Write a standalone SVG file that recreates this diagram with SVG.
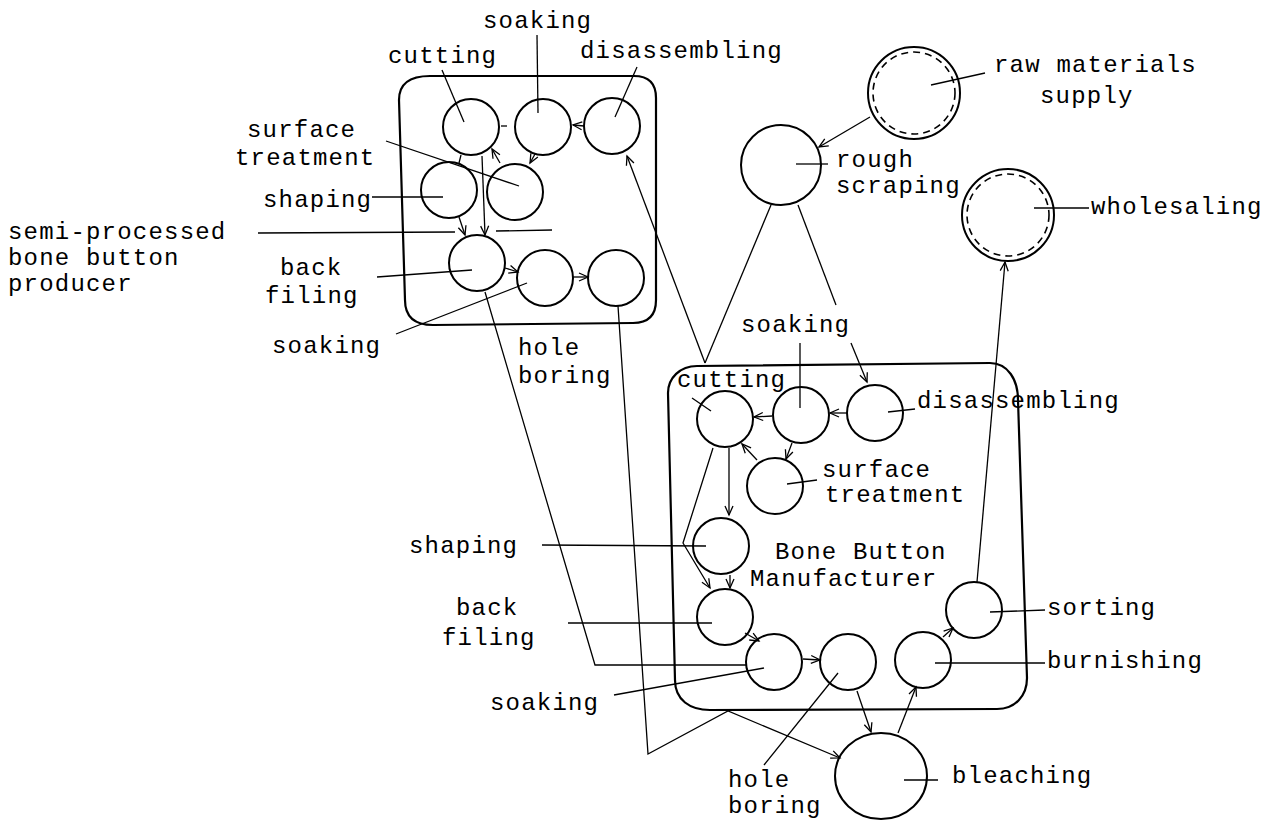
<svg xmlns="http://www.w3.org/2000/svg" width="1277" height="820" viewBox="0 0 1277 820">
<style>
text{font-family:"Liberation Mono","DejaVu Sans Mono",monospace;font-size:24px;letter-spacing:1.2px;fill:#000}
.c{fill:none;stroke:#000;stroke-width:2}
.d{fill:none;stroke:#000;stroke-width:1.6;stroke-dasharray:7 5}
.l{fill:none;stroke:#000;stroke-width:1.3}
.box{fill:none;stroke:#000;stroke-width:2.2}
</style>
<defs>
<marker id="arr" markerUnits="userSpaceOnUse" markerWidth="14" markerHeight="14" refX="10" refY="5" orient="auto"><path d="M1,1 L10,5 L1,9" fill="none" stroke="#000" stroke-width="1.3"/></marker>
</defs>
<rect width="1277" height="820" fill="#fff"/>

<g id="producer-box">
<path class="box" d="M430,76 L634,76 Q656,76 656,98 L656,300 Q656,323 633,323 L433,325 Q405,325 405,300 L399,100 Q399,76 430,76 Z"/>
<text x="8" y="239">semi-processed</text>
<text x="8" y="265">bone button</text>
<text x="8" y="291">producer</text>
<path class="l" d="M258,233 L455,232 M496,231 L552,230"/>
</g>

<g id="manufacturer-box">
<path class="box" d="M697,366 L990,363 C1008,363 1018,380 1018,400 L1027,678 C1027,696 1015,709 997,709 L710,710 C690,710 675,700 675,680 L668,393 C668,378 680,366 697,366 Z"/>
<text x="775" y="559">Bone Button</text>
<text x="750" y="586">Manufacturer</text>
</g>

<g id="p-cutting"><circle class="c" cx="471" cy="127" r="28"/><text x="388" y="63">cutting</text><path class="l" d="M442,70 L464,122"/></g>
<g id="p-soaking1"><circle class="c" cx="543" cy="127" r="28"/><text x="483" y="28">soaking</text><path class="l" d="M537,35 L538,113"/></g>
<g id="p-disassembling"><circle class="c" cx="612" cy="126" r="28"/><text x="580" y="58">disassembling</text><path class="l" d="M637,67 L615,117"/></g>
<g id="p-surface"><circle class="c" cx="515" cy="192" r="28"/><text x="247" y="137">surface</text><text x="235" y="165">treatment</text><path class="l" d="M386,141 L519,186"/></g>
<g id="p-shaping"><circle class="c" cx="449" cy="190" r="28"/><text x="263" y="207">shaping</text><path class="l" d="M372,197 L443,197"/></g>
<g id="p-backfiling"><circle class="c" cx="477" cy="263" r="28"/><text x="280" y="275">back</text><text x="265" y="303">filing</text><path class="l" d="M377,277 L472,270"/></g>
<g id="p-soaking2"><circle class="c" cx="545" cy="278" r="28"/><text x="272" y="353">soaking</text><path class="l" d="M396,334 L527,283"/></g>
<g id="p-holeboring"><circle class="c" cx="616" cy="278" r="28"/><text x="518" y="355">hole</text><text x="518" y="383">boring</text></g>

<g id="raw-materials"><circle class="c" cx="914" cy="93" r="46"/><circle class="d" cx="914" cy="93" r="41"/><text x="994" y="72">raw materials</text><text x="1040" y="103">supply</text><path class="l" d="M931,85 L985,73"/></g>
<g id="rough-scraping"><circle class="c" cx="781" cy="165" r="40"/><text x="836" y="167">rough</text><text x="836" y="193">scraping</text><path class="l" d="M796,164 L828,164"/></g>
<g id="wholesaling"><circle class="c" cx="1008" cy="215" r="46"/><circle class="d" cx="1008" cy="215" r="41"/><text x="1091" y="214">wholesaling</text><path class="l" d="M1034,208 L1089,208"/></g>

<g id="m-cutting"><circle class="c" cx="725" cy="419" r="28"/><text x="677" y="387">cutting</text><path class="l" d="M692,398 L711,411"/></g>
<g id="m-soaking1"><circle class="c" cx="801" cy="415" r="28"/><text x="741" y="332">soaking</text><path class="l" d="M800,343 L800,408"/></g>
<g id="m-disassembling"><circle class="c" cx="875" cy="413" r="28"/><text x="917" y="408">disassembling</text><path class="l" d="M888,412 L915,409"/></g>
<g id="m-surface"><circle class="c" cx="775" cy="486" r="28"/><text x="822" y="477">surface</text><text x="825" y="502">treatment</text><path class="l" d="M787,484 L817,480"/></g>
<g id="m-shaping"><circle class="c" cx="721" cy="546" r="28"/><text x="409" y="553">shaping</text><path class="l" d="M542,545 L706,546"/></g>
<g id="m-backfiling"><circle class="c" cx="725" cy="617" r="28"/><text x="456" y="615">back</text><text x="442" y="645">filing</text><path class="l" d="M568,623 L712,623"/></g>
<g id="m-soaking2"><circle class="c" cx="774" cy="662" r="28"/><text x="490" y="710">soaking</text><path class="l" d="M614,695 L764,668"/></g>
<g id="m-holeboring"><circle class="c" cx="848" cy="662" r="28"/><text x="728" y="787">hole</text><text x="728" y="813">boring</text><path class="l" d="M838,673 L764,765"/></g>
<g id="m-burnishing"><circle class="c" cx="923" cy="660" r="28"/><text x="1047" y="668">burnishing</text><path class="l" d="M935,663 L1045,663"/></g>
<g id="m-sorting"><circle class="c" cx="974" cy="610" r="28"/><text x="1047" y="615">sorting</text><path class="l" d="M990,612 L1045,610"/></g>
<g id="bleaching"><ellipse class="c" cx="881" cy="776" rx="46" ry="43"/><text x="952" y="783">bleaching</text><path class="l" d="M904,780 L938,780"/></g>

<g id="connectors">
<path class="l" d="M584,126 L573,125" marker-end="url(#arr)"/>
<path class="l" d="M501,126 L507,126"/>
<path class="l" d="M535,154 L530,163" marker-end="url(#arr)"/>
<path class="l" d="M500,163 L492,149" marker-end="url(#arr)"/>
<path class="l" d="M482,156 L485,235" marker-end="url(#arr)"/>
<path class="l" d="M461,155 L459,163"/>
<path class="l" d="M459,217 L465,235" marker-end="url(#arr)"/>
<path class="l" d="M505,268 L518,272" marker-end="url(#arr)"/>
<path class="l" d="M573,277 L588,277" marker-end="url(#arr)"/>
<path class="l" d="M705,363 L627,156" marker-end="url(#arr)"/>
<path class="l" d="M771,205 L705,363"/>
<path class="l" d="M798,205 L836,305"/>
<path class="l" d="M851,343 L867,382" marker-end="url(#arr)"/>
<path class="l" d="M870,117 L819,147" marker-end="url(#arr)"/>
<path class="l" d="M977,582 L1005,262" marker-end="url(#arr)"/>
<path class="l" d="M485,292 L595,665 L746,665"/>
<path class="l" d="M618,306 L648,754 L728,711 L840,758" marker-end="url(#arr)"/>
<path class="l" d="M772,416 L754,417" marker-end="url(#arr)"/>
<path class="l" d="M848,413 L830,413" marker-end="url(#arr)"/>
<path class="l" d="M792,443 L786,459" marker-end="url(#arr)"/>
<path class="l" d="M757,460 L742,444" marker-end="url(#arr)"/>
<path class="l" d="M729,448 L729,515" marker-end="url(#arr)"/>
<path class="l" d="M730,575 L730,588" marker-end="url(#arr)"/>
<path class="l" d="M713,448 L683,543 L710,588" marker-end="url(#arr)"/>
<path class="l" d="M745,633 L759,641" marker-end="url(#arr)"/>
<path class="l" d="M803,659 L820,660" marker-end="url(#arr)"/>
<path class="l" d="M857,691 L871,732" marker-end="url(#arr)"/>
<path class="l" d="M898,733 L916,687" marker-end="url(#arr)"/>
<path class="l" d="M943,637 L953,628" marker-end="url(#arr)"/>
</g>
</svg>
